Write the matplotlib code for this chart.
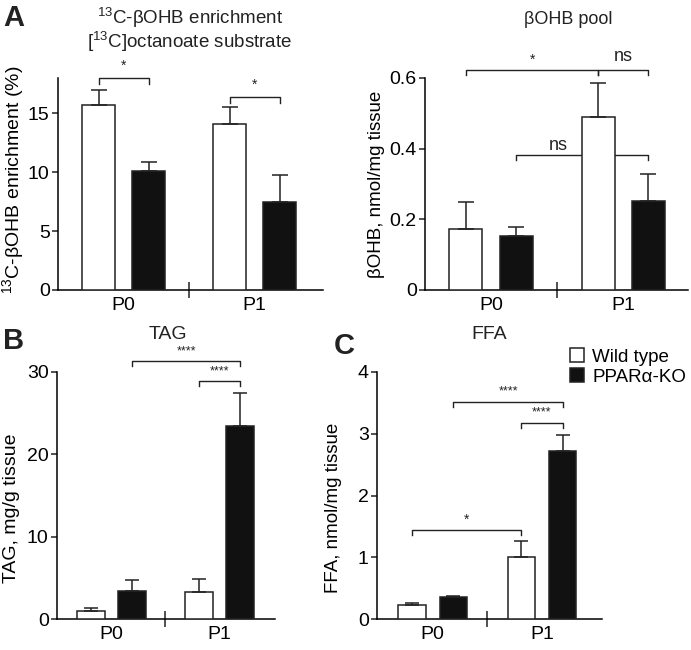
import numpy as np
import matplotlib
matplotlib.use("Agg")
import matplotlib.pyplot as plt

plt.rcParams['font.family'] = ['Liberation Sans', 'DejaVu Sans']
plt.rcParams['mathtext.fontset'] = 'custom'
plt.rcParams['mathtext.rm'] = 'Liberation Sans'
plt.rcParams['mathtext.it'] = 'Liberation Sans:italic'
plt.rcParams['axes.linewidth'] = 1.1

groups = ['P0', 'P1']
series = ['Wild type', 'PPARα-KO']

enrich_wt = [15.7, 14.1]
enrich_wt_err = [1.3, 1.4]
enrich_ko = [10.1, 7.45]
enrich_ko_err = [0.75, 2.3]

pool_wt = [0.173, 0.489]
pool_wt_err = [0.076, 0.097]
pool_ko = [0.153, 0.252]
pool_ko_err = [0.025, 0.076]

tag_wt = [0.93, 3.33]
tag_wt_err = [0.45, 1.57]
tag_ko = [3.4, 23.5]
tag_ko_err = [1.35, 3.9]

ffa_wt = [0.23, 1.01]
ffa_wt_err = [0.03, 0.25]
ffa_ko = [0.35, 2.72]
ffa_ko_err = [0.03, 0.26]

W, H = 691, 650
fig = plt.figure(figsize=(W / 100, H / 100), dpi=100)


def px_axes(left, right, top, bottom):
    return fig.add_axes([left / W, 1 - bottom / H, (right - left) / W, (bottom - top) / H])


ink = '#222222'
off = 0.19


def bars(ax, wt, wt_err, ko, ko_err, width, cap, ylim, yticks, xlim):
    x = np.arange(len(groups))
    ax.bar(x - off, wt, width, color='white', edgecolor=ink, linewidth=1.1,
           yerr=[np.zeros(len(wt)), wt_err], error_kw=dict(ecolor=ink, elinewidth=1.1, capsize=cap, capthick=1.1),
           label=series[0], zorder=3)
    ax.bar(x + off, ko, width, color='#111111', edgecolor=ink, linewidth=1.1,
           yerr=[np.zeros(len(ko)), ko_err], error_kw=dict(ecolor=ink, elinewidth=1.1, capsize=cap, capthick=1.1),
           label=series[1], zorder=3)
    ax.set_xlim(*xlim)
    ax.set_ylim(*ylim)
    ax.set_yticks(yticks)
    ax.spines['top'].set_visible(False)
    ax.spines['right'].set_visible(False)
    ax.set_xticks([0.5])
    ax.set_xticklabels([''])
    ax.tick_params(axis='x', which='major', direction='inout', length=12, width=1.1, color=ink)
    ax.set_xticks(x, minor=True)
    ax.set_xticklabels(groups, minor=True)
    ax.tick_params(axis='x', which='minor', length=0, labelsize=14, pad=5)
    ax.tick_params(axis='y', direction='out', length=4, width=1.1, labelsize=14, color=ink, pad=2)
    return ax


def bracket(ax, x1, x2, y, drop, text=None, tx=None, ty=None, fs=10, z=4):
    ax.plot([x1, x1, x2, x2], [y - drop, y, y, y - drop], color=ink, lw=1.0,
            clip_on=False, zorder=z)
    if text:
        ax.text(tx if tx is not None else (x1 + x2) / 2, ty, text, ha='center', va='center',
                fontsize=fs, color=ink)


# A: enrichment
axA = px_axes(58, 323, 78, 290)
bars(axA, enrich_wt, enrich_wt_err, enrich_ko, enrich_ko_err, 0.25, 6,
     (0, 18), [0, 5, 10, 15], (-0.5, 1.52))
axA.set_ylabel('$^{13}$C-βOHB enrichment (%)', fontsize=14)
axA.yaxis.set_label_coords(-0.122, 0.52)
bracket(axA, -off, off, 17.97, 0.45, '*', ty=19.0)
bracket(axA, 1 - off, 1 + off, 16.35, 0.45, '*', ty=17.4)

# D: pool
axD = px_axes(425, 688, 78, 290)
bars(axD, pool_wt, pool_wt_err, pool_ko, pool_ko_err, 0.25, 6,
     (0, 0.6), [0, 0.2, 0.4, 0.6], (-0.5, 1.49))
axD.set_yticklabels(['0', '0.2', '0.4', '0.6'])
axD.set_ylabel('βOHB, nmol/mg tissue', fontsize=13.5)
axD.yaxis.set_label_coords(-0.152, 0.5)
bracket(axD, -off, 1 - off, 0.622, 0.014, '*', ty=0.652)
bracket(axD, 1 - off, 1 + off, 0.622, 0.014, 'ns', ty=0.66, fs=13)
bracket(axD, off, 1 + off, 0.382, 0.013, 'ns', tx=0.51, ty=0.408, fs=13, z=2)

# B: TAG
axB = px_axes(57, 275, 372, 619)
bars(axB, tag_wt, tag_wt_err, tag_ko, tag_ko_err, 0.26, 5,
     (0, 30), [0, 10, 20, 30], (-0.5, 1.51))
axB.set_ylabel('TAG, mg/g tissue', fontsize=14)
axB.yaxis.set_label_coords(-0.17, 0.45)
bracket(axB, off, 1 + off, 31.3, 0.6, '****', ty=32.5, fs=9)
bracket(axB, 1 - off, 1 + off, 28.9, 0.6, '****', ty=30.1, fs=9)

# C: FFA
axC = px_axes(377, 602, 372, 619)
bars(axC, ffa_wt, ffa_wt_err, ffa_ko, ffa_ko_err, 0.25, 5,
     (0, 4), [0, 1, 2, 3, 4], (-0.51, 1.55))
axC.set_ylabel('FFA, nmol/mg tissue', fontsize=13.5)
axC.yaxis.set_label_coords(-0.155, 0.45)
bracket(axC, off, 1 + off, 3.51, 0.08, '****', ty=3.68, fs=9)
bracket(axC, 1 - off, 1 + off, 3.18, 0.08, '****', ty=3.35, fs=9)
bracket(axC, -off, 1 - off, 1.44, 0.08, '*', ty=1.6)

axC.legend(loc='center left', bbox_to_anchor=(570 / W, 1 - 367 / H), bbox_transform=fig.transFigure,
           frameon=False, fontsize=13.5, handlelength=0.75, handleheight=0.75, handletextpad=0.45,
           labelspacing=0.15, borderpad=0, borderaxespad=0)


def ftext(x, y, s, **kw):
    fig.text(x / W, 1 - y / H, s, ha='center', va='center', color=ink, **kw)


ftext(190, 18, '$^{13}$C-βOHB enrichment', fontsize=13.5)
ftext(190, 42, '[$^{13}$C]octanoate substrate', fontsize=13.5)
ftext(568, 20, 'βOHB pool', fontsize=13)
ftext(168, 335, 'TAG', fontsize=14)
ftext(489, 335, 'FFA', fontsize=14)
ftext(14, 18, 'A', fontsize=21, fontweight='bold')
ftext(14, 341, 'B', fontsize=21, fontweight='bold')
ftext(344, 346, 'C', fontsize=21, fontweight='bold')

fig.savefig('out.png', dpi=100)
